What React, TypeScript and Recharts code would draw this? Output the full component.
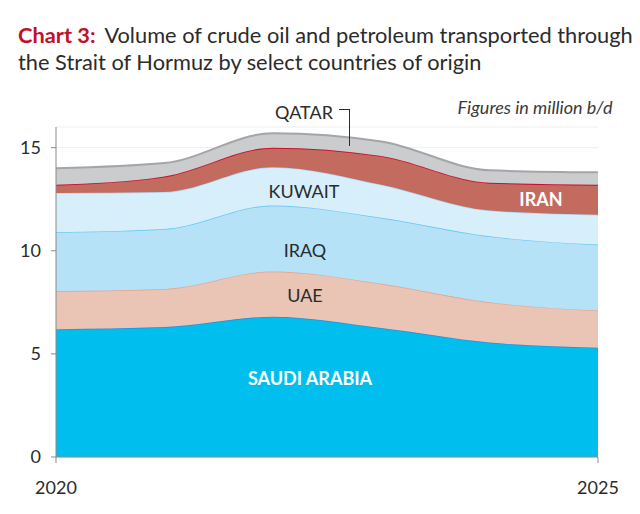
import React from 'react';
import {
    AreaChart, Area, XAxis, YAxis, CartesianGrid,
} from 'recharts';

const years = [2020, 2021, 2022, 2023, 2024, 2025];
const saudi = [6.2, 6.3, 6.8, 6.25, 5.55, 5.3];
const uae = [1.85, 1.85, 2.2, 2.15, 1.95, 1.8];
const iraq = [2.85, 2.9, 3.2, 3.2, 3.2, 3.2];
const kuwait = [1.9, 1.8, 1.85, 1.6, 1.25, 1.45];
const iran = [0.4, 0.75, 0.95, 1.4, 1.35, 1.45];
const qatar = [0.8, 0.65, 0.7, 0.7, 0.6, 0.6];
const yTicks = [0, 5, 10, 15];
const xTicks = [2020, 2025];

const data = years.map((year, i) => ({
    year,
    saudi: saudi[i], uae: uae[i], iraq: iraq[i],
    kuwait: kuwait[i], iran: iran[i], qatar: qatar[i],
}));

const FONT = 'Lato, "Noto Sans", sans-serif';
const INK = '#2b2b2b';

const Label = ({ x, y, children, style }: any) => (
    <div style={{
        position: 'absolute', left: x, top: y, transform: 'translate(-50%, -50%)',
        fontSize: 18, color: INK, whiteSpace: 'nowrap', lineHeight: 1, ...style,
    }}>{children}</div>
);

export default function App() {
    return (
        <div style={{ position: 'relative', width: 640, height: 514, margin: -8, background: '#fff', fontFamily: FONT, overflow: 'hidden' }}>
            <div style={{ position: 'absolute', left: 18, top: 21, fontSize: 21.8, lineHeight: '27px', color: INK, whiteSpace: 'nowrap' }}>
                <span style={{ color: '#C0102A', fontWeight: 700, marginRight: 4 }}>Chart 3:</span>
                {' '}Volume of crude oil and petroleum transported through<br />
                the Strait of Hormuz by select countries of origin
            </div>

            <AreaChart
                width={640} height={514} data={data}
                margin={{ top: 127, right: 42, bottom: 27, left: 0 }}
                style={{ position: 'absolute', left: 0, top: 0 }}
            >
                <CartesianGrid horizontal vertical={false} stroke="#eeeeee" />
                <XAxis
                    dataKey="year" type="number" domain={[2020, 2025]} ticks={xTicks} height={30}
                    axisLine={{ stroke: '#8a8a8a' }} tickLine={{ stroke: '#8a8a8a' }} tickSize={6} tickMargin={18}
                    tick={{ fill: INK, fontSize: 18, fontFamily: FONT }}
                />
                <YAxis
                    domain={[0, 16]} ticks={yTicks} width={56}
                    axisLine={{ stroke: '#8a8a8a' }} tickLine={{ stroke: '#8a8a8a' }} tickSize={5} tickMargin={10}
                    tick={{ fill: INK, fontSize: 18, fontFamily: FONT }}
                />
                <Area type="monotone" dataKey="saudi" stackId="a" fill="#00BFEE" fillOpacity={1} stroke="#2A8FD6" strokeWidth={1.5} isAnimationActive={false} />
                <Area type="monotone" dataKey="uae" stackId="a" fill="#EAC4B5" fillOpacity={1} stroke="#E8A28C" strokeWidth={1.5} isAnimationActive={false} />
                <Area type="monotone" dataKey="iraq" stackId="a" fill="#B5E2F7" fillOpacity={1} stroke="#66C6EF" strokeWidth={1.5} isAnimationActive={false} />
                <Area type="monotone" dataKey="kuwait" stackId="a" fill="#D6EFFB" fillOpacity={1} stroke="#A9DDF5" strokeWidth={1.5} isAnimationActive={false} />
                <Area type="monotone" dataKey="iran" stackId="a" fill="#C46B60" fillOpacity={1} stroke="#C8102E" strokeWidth={2} isAnimationActive={false} />
                <Area type="monotone" dataKey="qatar" stackId="a" fill="#CBCCCE" fillOpacity={1} stroke="#A3A5A8" strokeWidth={2} isAnimationActive={false} />
            </AreaChart>

            <Label x={304} y={112}>QATAR</Label>
            <div style={{ position: 'absolute', left: 339, top: 109, width: 10, height: 36, borderTop: `1px solid ${INK}`, borderRight: `1px solid ${INK}` }} />
            <Label x={535} y={107} style={{ fontStyle: 'italic', color: '#3a3a3a' }}>Figures in million b/d</Label>
            <Label x={304} y={191}>KUWAIT</Label>
            <Label x={305} y={250}>IRAQ</Label>
            <Label x={305} y={295}>UAE</Label>
            <Label x={310} y={378} style={{ color: '#fff', fontWeight: 700 }}>SAUDI ARABIA</Label>
            <Label x={541} y={199} style={{ color: '#fff', fontWeight: 700 }}>IRAN</Label>

            <div style={{ position: 'absolute', left: 0, right: 0, top: 509, height: 2, background: '#9a9a9a' }} />
        </div>
    );
}
